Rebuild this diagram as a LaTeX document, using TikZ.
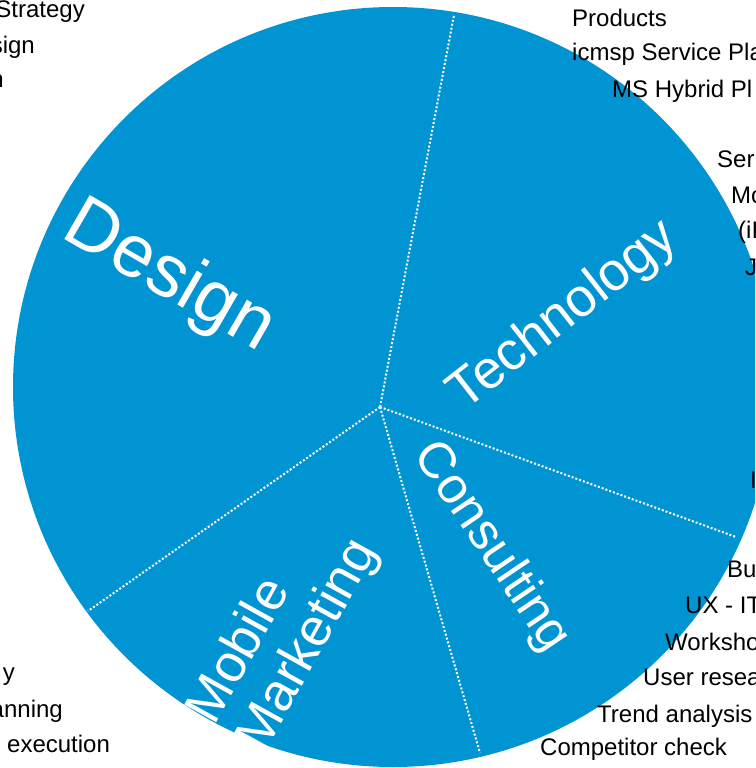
\documentclass[tikz,border=0pt]{standalone}
\usepackage{fontspec}
\setmainfont{Liberation Sans}
\definecolor{pieblue}{RGB}{0,148,211}
\begin{document}
\begin{tikzpicture}[x=1pt,y=-1pt,
  item/.style={inner sep=0pt,font=\fontsize{24}{28}\selectfont,text=black},
  itemw/.style={item,anchor=base west},
  iteme/.style={item,anchor=base east},
  big/.style={text=white,inner sep=0pt},
  divider/.style={white,line width=2pt,dash pattern=on 2pt off 2pt}]
\useasboundingbox (0,0) rectangle (755,768);
\clip (0,0) rectangle (755,768);
\fill[pieblue] (393,387) circle (380);
\coordinate (c) at (380,407);
\coordinate (e1) at (454,15);
\coordinate (e2) at (88,611);
\coordinate (e3) at (480,753);
\coordinate (e4) at (736,537);
\draw[divider] (c) -- (e1);
\draw[divider] (c) -- (e2);
\draw[divider] (c) -- (e3);
\draw[divider] (c) -- (e4);
% big labels
\node[big,rotate=-30,font=\fontsize{74}{80}\selectfont] (design) at (169,278) {Design};
\node[big,rotate=38,font=\fontsize{54}{60}\selectfont] (tech) at (564,316) {Technology};
\node[big,rotate=-56,font=\fontsize{51}{56}\selectfont] (cons) at (491,547) {Consulting};
\node[big,rotate=61,align=left,font=\fontsize{53}{57}\selectfont] (mob) at (284,632) {Mobile\\Marketing};
% top left
\node[iteme] (tl1) at (85,18) {Strategy};
\node[iteme] (tl2) at (35,53) {sign};
\node[iteme] (tl3) at (4,88) {n};
% top right
\node[itemw] (tr1) at (572,27) {Products};
\node[itemw] (tr2) at (572,61) {icmsp Service Pla};
\node[itemw] (tr3) at (612,97) {MS Hybrid Pl};
\node[itemw] (r1) at (717,167) {Ser};
\node[itemw] (r2) at (731,203) {Mo};
\node[itemw] (r3) at (738,238) {(iI};
\node[itemw] (r4) at (745,275) {J};
\node[itemw] (r5) at (750,488) {I};
% bottom right
\node[itemw] (br1) at (727,577) {Bu};
\node[itemw] (br2) at (685,613) {UX - IT};
\node[itemw] (br3) at (665,650) {Worksho};
\node[itemw] (br4) at (643,685) {User resea};
\node[itemw] (br5) at (597,722) {Trend analysis};
\node[itemw] (br6) at (540,755) {Competitor check};
% bottom left
\node[iteme] (bl1) at (15,680) {y};
\node[iteme] (bl2) at (63,717) {anning};
\node[itemw] (bl3) at (7,752) {execution};
\end{tikzpicture}
\end{document}
